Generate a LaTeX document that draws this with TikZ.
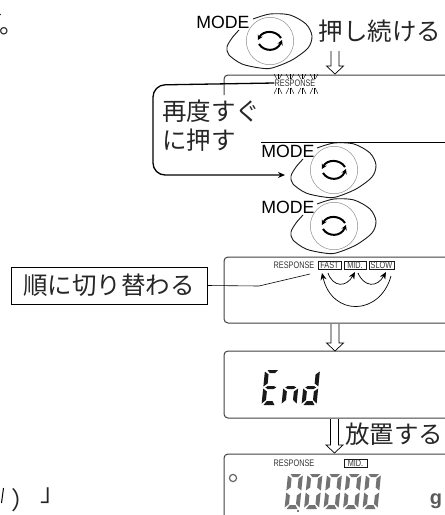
\documentclass[tikz,border=0pt]{standalone}
\usepackage{fontspec}
\setmainfont{Liberation Sans}
\newfontfamily\cjk{Noto Sans CJK JP}
\usetikzlibrary{arrows.meta,positioning}

\newcommand{\lcdword}[1]{\scalebox{.77}[1]{#1}}
\newcommand{\lcddigit}[4]{%
  \begin{scope}[shift={(#1,#2)},xslant=.1,fill=#3]
    \foreach \s in {#4} \pic[transform shape] {seg \s};
  \end{scope}}

\tikzset{
  seg a/.pic={\fill (2.5,0) -- (13,0) -- (10.5,3) -- (5,3) -- cycle;},
  seg f/.pic={\fill (0,1.5) -- (4,4.5) -- (4,13.5) -- (0,16.5) -- cycle;},
  seg b/.pic={\fill (15,1.5) -- (11,4.5) -- (11,13.5) -- (15,16.5) -- cycle;},
  seg g/.pic={\fill (2,17.5) -- (4.5,16) -- (10.5,16) -- (13,17.5) -- (10.5,19) -- (4.5,19) -- cycle;},
  seg e/.pic={\fill (0,18.5) -- (4,21.5) -- (4,30) -- (0,33.5) -- cycle;},
  seg c/.pic={\fill (15,18.5) -- (11,21.5) -- (11,30) -- (15,33.5) -- cycle;},
  seg d/.pic={\fill (2,35) -- (5,31) -- (10.5,31) -- (13,35) -- cycle;},
  modebtn/.pic={
    \draw[black!90, line width=.9pt] plot[smooth] coordinates {(-17,-22) (0,-27) (20,-26) (36,-17) (42,-5)
      (38,7) (22,19) (2,27) (-10,27) (-28,23) (-41,14) (-43,6) (-38,-3) (-31,-11)};
    \draw[black!45, line width=.5pt] (0,0) circle (23.7);
    \draw[line width=2pt, -{Stealth[length=5pt,width=5.5pt]}] (11,-3) .. controls (6,-11) and (-7,-11) .. (-12,-1);
    \draw[line width=2pt, -{Stealth[length=5pt,width=5.5pt]}] (-11,3) .. controls (-6,11) and (7,11) .. (12,-1);
  },
  dnarrow/.pic={
    \draw[fill=white, line width=.7pt] (-4,-#1) -- (-4,-8) -- (-8.5,-8) -- (0,0) -- (8.5,-8) -- (4,-8) -- (4,-#1);
  },
  panel/.style={draw=black!75, line width=1pt, rounded corners=4pt},
  jp/.style={font=\cjk\fontsize{24.5}{29}\selectfont, text=black!85, inner sep=0pt},
  modetxt/.style={font=\fontsize{17.7}{18}\selectfont, inner sep=0pt},
  small/.style={font=\fontsize{9.5}{9.5}\selectfont, text=black!80, inner sep=0pt},
  tag/.style={small, draw=black!90, line width=.9pt, minimum height=8pt, inner xsep=0pt},
  lead/.style={line width=1.3pt, rounded corners=12pt},
}

\begin{document}
\begin{tikzpicture}[x=1pt, y=-1pt, >={Stealth[length=7pt,width=6pt]}]
  \useasboundingbox (0,0) rectangle (445,515);
  \clip (0,0) rectangle (445,515);

  % display panels
  \draw[panel] (224,95) -- (224,75) -- (450,75);
  \draw[line width=.8pt] (261,142) -- (450,142);
  \draw[panel] (450,257) -- (224,257) -- (224,323) -- (450,323);
  \draw[panel] (450,351) -- (224,351) -- (224,418) -- (450,418);
  \draw[panel] (450,454) -- (224,454) -- (224,520);

  % buttons
  \pic at (270,41) {modebtn};
  \pic at (334,170) {modebtn};
  \pic at (334,226) {modebtn};
  \node[modetxt] (modea) at (223,22) {MODE};
  \node[modetxt] (modeb) at (288,151) {MODE};
  \node[modetxt] (modec) at (288,207) {MODE};

  % block arrows
  \pic at (335,74) {dnarrow=23};
  \pic at (335,351) {dnarrow=27};
  \pic at (334.5,453) {dnarrow=34};

  \node[jp] (hold) at (380,31) {押し続ける};
  \node[jp] (leave) at (394,434) {放置する};
  \node[jp, align=left] (again) at (211,126) {再度すぐ\\に押す};
  \node[jp, draw=black, line width=.7pt, minimum width=196pt, minimum height=37pt] (order) at (109,285.5) {順に切り替わる};

  % flashing label
  \node[small] (flash) at (295,83) {\lcdword{RESPONSE}};
  \foreach \x in {278,290,302,314} {
    \foreach \d in {-4,0,4} {
      \draw[line width=.4pt] (\x+\d,74) -- (\x+.3*\d,79);
      \draw[line width=.4pt] (\x+.3*\d,88) -- (\x+\d,94);
    }
  }
  \coordinate (btnin) at (285,175);
  \draw[lead, ->] (flash.west) -- (153,85) -- (153,175) -- (btnin);

  % response selection
  \node[small] (resp) at (294,265) {\lcdword{RESPONSE}};
  \node[tag, minimum width=23pt] (fast) at (329.5,265) {\lcdword{FAST}};
  \node[tag, minimum width=22pt] (mid) at (355,265) {\lcdword{MID.}};
  \node[tag, minimum width=25pt] (slow) at (381.5,265) {\lcdword{SLOW}};
  \coordinate (bend) at (259,286);
  \draw[line width=.6pt] (order.east) -- (bend) -- (310,274);
  \draw[->, line width=.7pt] (328,273) .. controls (333,287) and (346,288) .. (355,272);
  \draw[->, line width=.7pt] (358,273) .. controls (364,287) and (377,288) .. (386,272);
  \draw[->, line width=.7pt] (391,276) .. controls (380,316) and (332,317) .. (322,273);

  % End display
  \lcddigit{265}{370}{black!90}{a,f,g,e,d}
  \lcddigit{285}{370}{black!90}{g,e,c}
  \lcddigit{305}{370}{black!90}{b,g,e,c,d}

  % weighing display
  \node[small] (respb) at (294,463) {\lcdword{RESPONSE}};
  \node[tag, minimum width=23pt] (midb) at (355.5,463) {\lcdword{MID.}};
  \draw[black!60, line width=1.2pt] (233,478) circle (3.6);
  \foreach \i in {0,...,4} {
    \lcddigit{288+19.5*\i}{474}{black!55}{a,b,c,d,e,f}
  }
  \fill[black!70] (298,511) circle (1.2);
  \node[font=\bfseries\fontsize{20}{20}\selectfont, text=black!65, inner sep=0pt] (unit) at (436,501) {g};

  % cut-off text at the left edge
  \node[jp] (stop) at (12,31) {。};
  \fill (0,14.5) circle (.8);
  \draw[line width=1pt] (3.5,488) -- (1.5,503);
  \node[jp] (paren) at (24,500) {）};
  \node[jp] (quote) at (53,496) {」};
\end{tikzpicture}
\end{document}
